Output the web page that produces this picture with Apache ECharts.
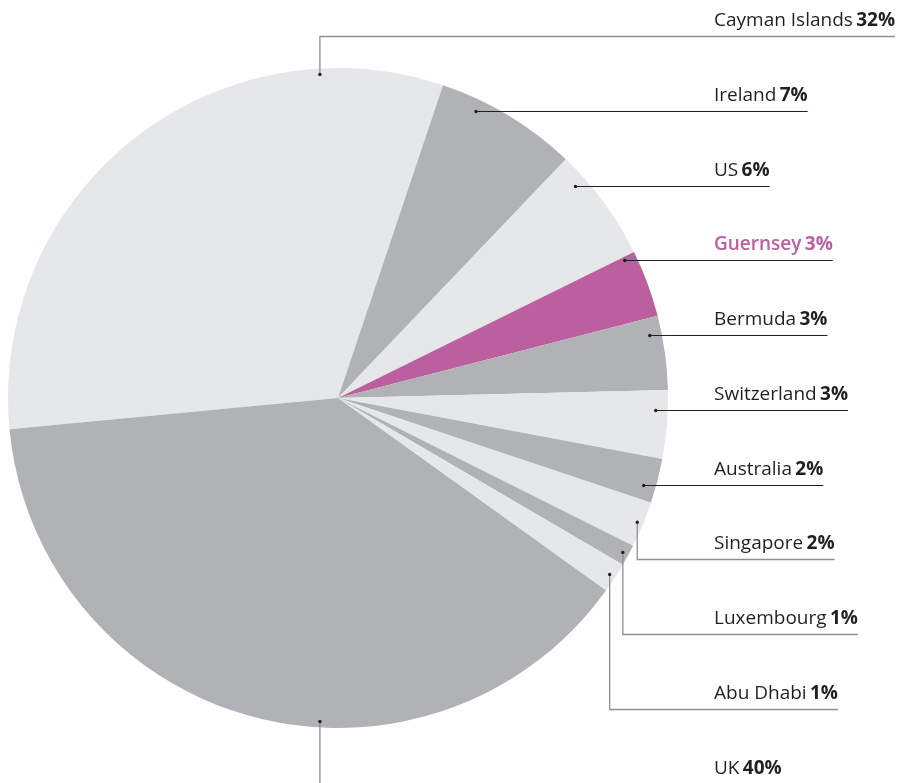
<!DOCTYPE html>
<html>
<head>
<meta charset="utf-8">
<title>Fund domicile</title>
<script src="https://cdn.jsdelivr.net/npm/echarts@6/dist/echarts.min.js"></script>
<style>
  html, body { margin: 0; padding: 0; background: #fff; }
  #chart { width: 901px; height: 783px; }
</style>
</head>
<body>
<div id="chart"></div>
<script>
// slices run clockwise, starting at the left edge of the pie
const countries = ['Cayman Islands', 'Ireland', 'US', 'Guernsey', 'Bermuda', 'Switzerland', 'Australia', 'Singapore', 'Luxembourg', 'Abu Dhabi', 'UK']
// slice sizes as drawn (% of the circle)
const shares = [31.67, 6.97, 5.58, 3.29, 3.62, 3.34, 2.18, 2.25, 1.04, 1.49, 38.57]
// figures printed in the labels
const printedPct = [32, 7, 6, 3, 3, 3, 2, 2, 1, 1, 40]
const highlight = 'Guernsey'

const LIGHT = '#e6e7e8'
const DARK = '#b1b2b5'
const PINK = '#bb5f9e'
const INK = '#231f20'
const GUIDE_GREY = '#8f8f8f'

const CX = 338, CY = 398, R = 330
const START_ANGLE = 185.45
const LABEL_X = 714
const ROW_TOP = 36, ROW_STEP = 74.75
const R_FLAT = 318   // dot radius when the leader is a plain horizontal line
const R_BENT = 324   // dot radius when the leader has an elbow
const POLE_NUDGE = 3.2
const FONT = 19

const rowY = i => Math.round(ROW_TOP + i * ROW_STEP) + 0.5

// angles of each slice, same as the pie lays them out
const total = shares.reduce((a, b) => a + b, 0)
let acc = START_ANGLE
const arcs = shares.map(v => {
  const a0 = acc
  acc -= v / total * 360
  return { a0, a1: acc }
})

// where each leader line starts on its slice
const leaders = arcs.map(({ a0, a1 }, i) => {
  const y = rowY(i)
  const up = CY - y
  if (Math.abs(up) < R_FLAT) {
    const th = Math.asin(up / R_FLAT) * 180 / Math.PI
    if (th < a0 - 0.2 && th > a1 + 0.2) {
      return { x: CX + Math.sqrt(R_FLAT * R_FLAT - up * up), y, bent: false }
    }
  }
  let phi = (a0 + a1) / 2
  if (a0 > 90 && a1 < 90) phi = 90 + POLE_NUDGE
  else if (a0 > -90 && a1 < -90) phi = -90 - POLE_NUDGE
  const rad = phi * Math.PI / 180
  return { x: CX + R_BENT * Math.cos(rad), y: CY - R_BENT * Math.sin(rad), bent: true }
})

let plain = 0
const sliceData = countries.map((name, i) => ({
  name,
  value: shares[i],
  itemStyle: { color: name === highlight ? PINK : (plain++ % 2 === 0 ? LIGHT : DARK) }
}))

// same slices again, transparent, so labels and leaders sit above the fills
const labelData = countries.map((name, i) => {
  const isHi = name === highlight
  const txt = isHi ? PINK : INK
  return {
    name,
    value: shares[i],
    itemStyle: { color: 'rgba(0,0,0,0)' },
    label: {
      rich: {
        n: { color: txt, fontSize: FONT, fontWeight: isHi ? 600 : 400, fontFamily: 'Open Sans' },
        b: { color: txt, fontSize: FONT, fontWeight: 700, fontFamily: 'Open Sans' }
      }
    },
    labelLine: {
      lineStyle: { color: leaders[i].bent ? GUIDE_GREY : INK, width: leaders[i].bent ? 1.3 : 1 }
    }
  }
})

const chart = echarts.init(document.getElementById('chart'))

const pieBase = {
  type: 'pie',
  center: [CX, CY],
  radius: R,
  startAngle: START_ANGLE,
  clockwise: true,
  avoidLabelOverlap: false,
  emphasis: { disabled: true },
  itemStyle: { borderWidth: 0 }
}

const option = {
  backgroundColor: '#ffffff',
  animation: false,
  series: [
    Object.assign({}, pieBase, {
      z: 2,
      label: { show: false },
      labelLine: { show: false },
      data: sliceData
    }),
    Object.assign({}, pieBase, {
      z: 4,
      silent: true,
      label: {
        show: true,
        position: 'outside',
        formatter: p => '{n|' + p.name + '} {b|' + printedPct[p.dataIndex] + '%}'
      },
      labelLine: { show: true, smooth: false },
      labelLayout: params => {
        const i = params.dataIndex
        const p = leaders[i]
        const y = rowY(i)
        const endX = LABEL_X + params.labelRect.width
        return {
          x: LABEL_X,
          y: y - 16,
          align: 'left',
          verticalAlign: 'middle',
          labelLinePoints: [[p.x, p.y], [p.x, y], [endX, y]]
        }
      },
      data: labelData
    })
  ],
  graphic: leaders.map(p => ({
    type: 'circle',
    z: 100,
    shape: { cx: p.x, cy: p.y, r: 1.7 },
    style: { fill: INK }
  }))
}

chart.setOption(option)
</script>
</body>
</html>
